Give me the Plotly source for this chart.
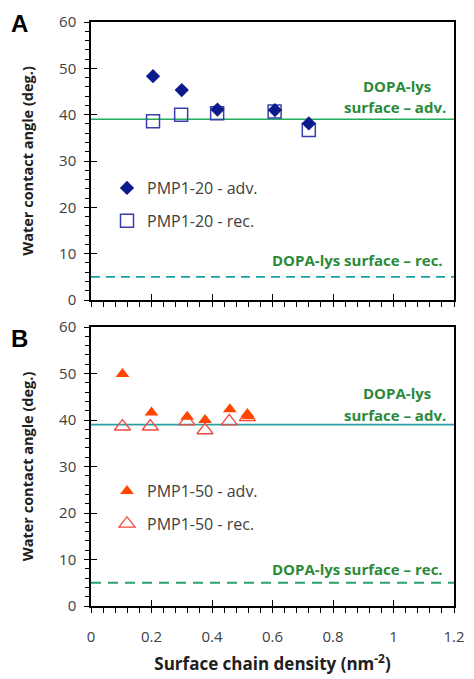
import plotly.graph_objects as go

# ---- data ----
a_adv_x = [0.205, 0.30, 0.418, 0.608, 0.72]
a_adv_y = [48.3, 45.3, 41.1, 41.0, 38.1]
a_rec_x = [0.205, 0.298, 0.417, 0.607, 0.72]
a_rec_y = [38.6, 40.0, 40.3, 40.7, 36.7]

b_adv_x = [0.104, 0.20, 0.318, 0.377, 0.459, 0.517, 0.52]
b_adv_y = [49.9, 41.6, 40.7, 40.0, 42.3, 41.3, 40.8]
b_rec_x = [0.104, 0.196, 0.317, 0.377, 0.457, 0.517]
b_rec_y = [38.6, 38.6, 39.7, 37.8, 39.7, 40.6]

ref_x = [0, 1.2]
ref_adv = 39
ref_rec = 5

FONT = "Open Sans"
GRAY = "#404040"
GREEN_TXT = "#2a8a3a"

# figure geometry (px); page body has an 8px margin
OFF = 8
W, H = 474 - OFF, 679 - OFF
ML, MR, MT, MB = 91 - OFF, 20, 22 - OFF, 73
PH = H - MT - MB
PW = W - ML - MR


def py(p):  # screen y -> paper y
    return (H - MB - (p - OFF)) / PH


def px(p):  # screen x -> paper x
    return (p - OFF - ML) / PW


fig = go.Figure()

# Panel A
fig.add_trace(go.Scatter(x=ref_x, y=[ref_adv] * 2, mode="lines", showlegend=False,
                         line=dict(color="#22ad5c", width=1.6), xaxis="x", yaxis="y"))
fig.add_trace(go.Scatter(x=ref_x, y=[ref_rec] * 2, mode="lines", showlegend=False,
                         line=dict(color="#1aa0a0", width=1.8, dash="9px,6px"), xaxis="x", yaxis="y"))
fig.add_trace(go.Scatter(x=a_rec_x, y=a_rec_y, mode="markers", name="PMP1-20 - rec.",
                         marker=dict(symbol="square-open", size=13, color="#3a3db0", line=dict(width=1.5)),
                         xaxis="x", yaxis="y", legend="legend", legendrank=2, legendgroup="a2"))
fig.add_trace(go.Scatter(x=a_adv_x, y=a_adv_y, mode="markers", name="PMP1-20 - adv.",
                         marker=dict(symbol="diamond", size=11, color="#0c1a8a"),
                         xaxis="x", yaxis="y", legend="legend", legendrank=1, legendgroup="a1"))

# Panel B
fig.add_trace(go.Scatter(x=ref_x, y=[ref_adv] * 2, mode="lines", showlegend=False,
                         line=dict(color="#2a9fa8", width=1.6), xaxis="x2", yaxis="y2"))
fig.add_trace(go.Scatter(x=ref_x, y=[ref_rec] * 2, mode="lines", showlegend=False,
                         line=dict(color="#2aa06a", width=2.2, dash="10px,7px"), xaxis="x2", yaxis="y2"))
fig.add_trace(go.Scatter(x=b_rec_x, y=b_rec_y, mode="markers", name="PMP1-50 - rec.",
                         marker=dict(symbol="triangle-up-open", size=14, color="#f04a40", line=dict(width=1.3)),
                         xaxis="x2", yaxis="y2", legend="legend2", legendrank=2, legendgroup="b2"))
fig.add_trace(go.Scatter(x=b_adv_x, y=b_adv_y, mode="markers", name="PMP1-50 - adv.",
                         marker=dict(symbol="triangle-up", size=12, color="#ff4500"),
                         xaxis="x2", yaxis="y2", legend="legend2", legendrank=1, legendgroup="b1"))

# invisible traces creating overlay axes (inside half of major ticks)
fig.add_trace(go.Scatter(x=[None], y=[None], mode="markers", showlegend=False, hoverinfo="skip",
                         xaxis="x3", yaxis="y3"))
fig.add_trace(go.Scatter(x=[None], y=[None], mode="markers", showlegend=False, hoverinfo="skip",
                         xaxis="x4", yaxis="y4"))

YA = [py(300), 1]
YB = [0, py(327)]

xbase = dict(range=[0, 1.2], dtick=0.2, ticks="outside", ticklen=5, tickwidth=1.3, tickcolor="black",
             minor=dict(dtick=0.04, ticks="outside", ticklen=5, tickwidth=1, tickcolor="black"),
             showline=True, linecolor="black", linewidth=1.5, mirror=True, showgrid=False, zeroline=False,
             tickfont=dict(family=FONT, size=15, color=GRAY), domain=[0, 1], automargin=False,
             ticklabelstandoff=11)
ybase = dict(range=[0, 60], dtick=10, ticks="outside", ticklen=5, tickwidth=1.3, tickcolor="black",
             minor=dict(dtick=2, ticks="outside", ticklen=4, tickwidth=1, tickcolor="black"),
             showline=True, linecolor="black", linewidth=1.5, mirror=True, showgrid=False, zeroline=False,
             tickfont=dict(family=FONT, size=15, color=GRAY), automargin=False, ticklabelstandoff=5,
             title=dict(text="<b>Water contact angle (deg.)</b>", font=dict(family=FONT, size=14.5, color="#202020"),
                        standoff=22))

inside_x = dict(range=[0, 1.2], dtick=0.2, ticks="inside", ticklen=6, tickwidth=1.3, tickcolor="black",
                showticklabels=False, showline=False, showgrid=False, zeroline=False, automargin=False)
inside_y = dict(range=[0, 60], dtick=10, ticks="inside", ticklen=6, tickwidth=1.3, tickcolor="black",
                showticklabels=False, showline=False, showgrid=False, zeroline=False, automargin=False)

fig.update_layout(
    width=W, height=H,
    margin=dict(l=ML, r=MR, t=MT, b=MB, autoexpand=False),
    paper_bgcolor="white", plot_bgcolor="white",
    xaxis=dict(xbase, anchor="y", showticklabels=False),
    yaxis=dict(ybase, anchor="x", domain=YA),
    xaxis2=dict(xbase, anchor="y2",
                title=dict(text="<b>Surface chain density (nm<sup>-2</sup>)</b>",
                           font=dict(family=FONT, size=17, color="#202020"), standoff=13)),
    yaxis2=dict(ybase, anchor="x2", domain=YB),
    xaxis3=dict(inside_x, overlaying="x", anchor="y3"),
    yaxis3=dict(inside_y, overlaying="y", anchor="x3"),
    xaxis4=dict(inside_x, overlaying="x2", anchor="y4"),
    yaxis4=dict(inside_y, overlaying="y2", anchor="x4"),
    legend=dict(x=px(107), y=py(171), xanchor="left", yanchor="top", bgcolor="rgba(0,0,0,0)",
                font=dict(family=FONT, size=16, color=GRAY), tracegroupgap=9, itemwidth=30),
    legend2=dict(x=px(107), y=py(474), xanchor="left", yanchor="top", bgcolor="rgba(0,0,0,0)",
                 font=dict(family=FONT, size=16, color=GRAY), tracegroupgap=9, itemwidth=30),
    showlegend=True,
)

ann_font = dict(family=FONT, size=15, color=GREEN_TXT)
for xr, yr, s1, s2, s3 in (("x", "y", 33, 12, 17), ("x2", "y2", 32, 10, 14)):
    fig.add_annotation(x=1.0116, y=ref_adv, xref=xr, yref=yr, xanchor="center", yanchor="middle",
                       text="<b>DOPA-lys</b>", showarrow=False, font=ann_font, yshift=s1)
    fig.add_annotation(x=1.18, y=ref_adv, xref=xr, yref=yr, xanchor="right", yanchor="middle",
                       text="<b>surface – adv.</b>", showarrow=False, font=ann_font, yshift=s2)
    fig.add_annotation(x=1.17, y=ref_rec, xref=xr, yref=yr, xanchor="right", yanchor="middle",
                       text="<b>DOPA-lys surface – rec.</b>", showarrow=False, font=ann_font, yshift=s3)

fig.add_annotation(x=px(9), y=py(8), xref="paper", yref="paper", xanchor="left", yanchor="top",
                   text="<b>A</b>", showarrow=False, font=dict(family="Liberation Sans", size=24, color="black"))
fig.add_annotation(x=px(9), y=py(323), xref="paper", yref="paper", xanchor="left", yanchor="top",
                   text="<b>B</b>", showarrow=False, font=dict(family="Liberation Sans", size=24, color="black"))

fig.write_html("out.html")
